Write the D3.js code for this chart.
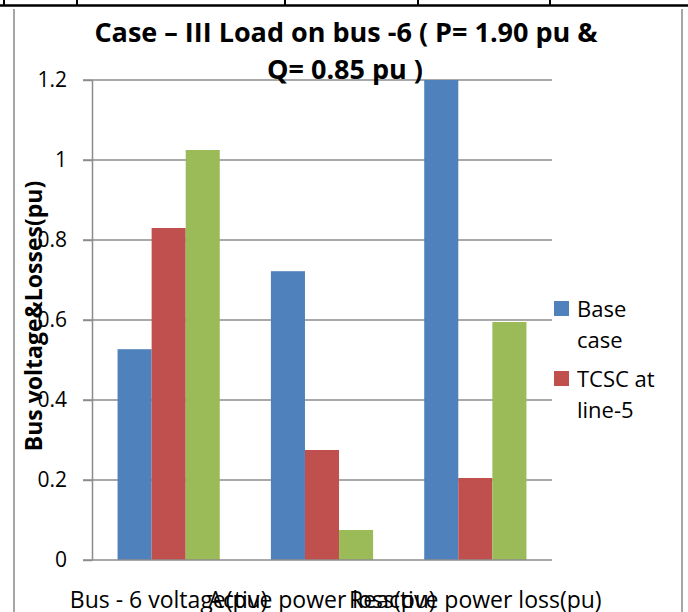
<!DOCTYPE html>
<html>
<head>
<meta charset="utf-8">
<script src="https://cdn.jsdelivr.net/npm/d3@7"></script>
<style>
    body { margin: 0; background: #fff; }
    text { font-family: "Open Sans", sans-serif; fill: #000; }
    .axis path, .axis line { stroke: #8c8c8c; stroke-width: 1.5px; }
    .axis text { font-size: 21px; }
</style>
</head>
<body>
<div id="datawrapper"></div>
<script>
const categories = ["Bus - 6 voltage(pu)", "Active power loss(pu)", "Reactive power loss(pu)"];
const seriesNames = ["Base case", "TCSC at line-5", "Series 3"];
const baseCase = [0.527, 0.722, 1.2];
const tcscLine5 = [0.83, 0.275, 0.205];
const series3 = [1.025, 0.075, 0.595];
const yTicks = [0, 0.2, 0.4, 0.6, 0.8, 1, 1.2];
const colors = ["#4F81BD", "#C0504D", "#9BBB59"];

function drawChart(w, h) {

    let values = [baseCase, tcscLine5, series3];
    let rows = [];
    categories.forEach(function (c, i) {
        values.forEach(function (s, j) {
            rows.push({cat: c, series: seriesNames[j], idx: j, value: s[i]});
        });
    });

    let left = 92, right = 552, top = 80, bottom = 560;

    let xScale = d3.scaleBand()
        .domain(categories)
        .range([left, right])
        .paddingInner(1 / 3)
        .paddingOuter(1 / 6);

    let xInner = d3.scaleBand()
        .domain(seriesNames)
        .range([0, xScale.bandwidth()]);

    let yScale = d3.scaleLinear()
        .domain([0, 1.2])
        .range([bottom, top]);

    let svg = d3.select("#datawrapper")
        .append("svg")
        .attr("width", w)
        .attr("height", h);

    // table lines above the chart
    svg.append("line")
        .attr("x1", 0).attr("x2", w).attr("y1", 5.5).attr("y2", 5.5)
        .style("stroke", "#000").style("stroke-width", "2.5px");
    [4, 77, 285, 418, 550].forEach(function (x) {
        svg.append("line")
            .attr("x1", x).attr("x2", x).attr("y1", 0).attr("y2", 6)
            .style("stroke", "#000").style("stroke-width", "2px");
    });

    // chart frame (left and right sides)
    [14, 682].forEach(function (x) {
        svg.append("line")
            .attr("x1", x).attr("x2", x).attr("y1", 9).attr("y2", h)
            .style("stroke", "#a6a6a6")
            .style("stroke-width", "2px");
    });

    // gridlines
    svg.selectAll(".grid")
        .data(yTicks.slice(1))
        .enter()
        .append("line")
        .attr("class", "grid")
        .attr("x1", left - 9)
        .attr("x2", right)
        .attr("y1", function (d) { return yScale(d); })
        .attr("y2", function (d) { return yScale(d); })
        .style("stroke", "#8c8c8c")
        .style("stroke-width", "1.5px");

    svg.selectAll(".bar")
        .data(rows)
        .enter()
        .append("rect")
        .attr("class", "bar")
        .attr("x", function (d) {
            return xScale(d.cat) + xInner(d.series);
        })
        .attr("y", function (d) {
            return yScale(Math.min(d.value, 1.2));
        })
        .attr("width", xInner.bandwidth())
        .attr("height", function (d) {
            return bottom - yScale(Math.min(d.value, 1.2));
        })
        .attr("fill", function (d) {
            return colors[d.idx];
        });

    let yAxis = d3.axisLeft(yScale)
        .tickValues(yTicks)
        .tickSize(9)
        .tickSizeOuter(0)
        .tickPadding(16)
        .tickFormat(function (d) { return String(d); });

    svg.append("g")
        .attr("class", "axis")
        .attr("transform", "translate(" + left + ", 0)")
        .call(yAxis);

    // x baseline
    svg.append("line")
        .attr("x1", left - 9).attr("x2", right)
        .attr("y1", bottom).attr("y2", bottom)
        .style("stroke", "#8c8c8c").style("stroke-width", "1.5px");

    svg.selectAll(".catlabel")
        .data(categories)
        .enter()
        .append("text")
        .attr("class", "catlabel")
        .attr("x", function (d) { return xScale(d) + xScale.bandwidth() / 2; })
        .attr("y", 608)
        .style("text-anchor", "middle")
        .style("font-size", "23px")
        .text(function (d) { return d; });

    let title = svg.append("text")
        .style("text-anchor", "middle")
        .style("font-size", "27px")
        .style("font-weight", "bold");
    title.append("tspan").attr("x", 346).attr("y", 42).text("Case – III Load on bus -6 ( P= 1.90 pu &");
    title.append("tspan").attr("x", 345).attr("y", 79).text("Q= 0.85 pu )");

    svg.append("text")
        .attr("transform", "translate(42, 316) rotate(-90)")
        .style("text-anchor", "middle")
        .style("font-size", "23px")
        .style("font-weight", "bold")
        .text("Bus voltage&Losses(pu)");

    // legend: only the first two entries fit in the box
    let legend = [
        {idx: 0, lines: ["Base", "case"], y: 301},
        {idx: 1, lines: ["TCSC at", "line-5"], y: 371}
    ];
    legend.forEach(function (l) {
        svg.append("rect")
            .attr("x", 554).attr("y", l.y)
            .attr("width", 15).attr("height", 15)
            .attr("fill", colors[l.idx]);
        let t = svg.append("text").style("font-size", "22px");
        l.lines.forEach(function (s, k) {
            t.append("tspan").attr("x", 577).attr("y", l.y + 16 + k * 31).text(s);
        });
    });
}

drawChart(688, 612);
</script>
</body>
</html>
